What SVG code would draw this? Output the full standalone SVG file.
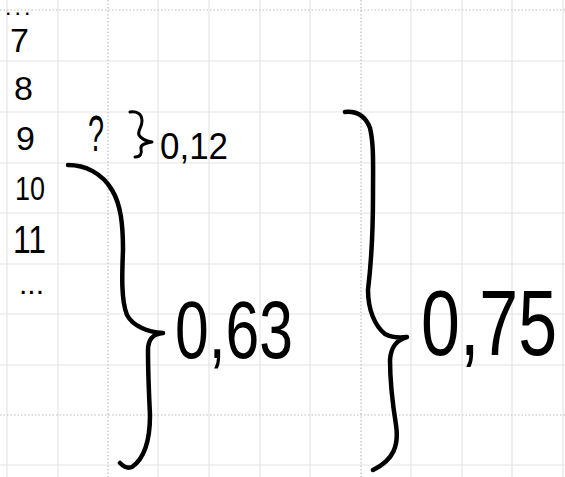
<svg xmlns="http://www.w3.org/2000/svg" width="565" height="477" viewBox="0 0 565 477">
<style>
.g{stroke:#e4e4e4;stroke-width:1.2;fill:none}
.gd{stroke:#bdbdbd;stroke-width:1.2;stroke-dasharray:1.5 2;fill:none}
.br{fill:none;stroke:#000;stroke-linecap:round;stroke-linejoin:round}
text{font-family:"Liberation Sans",Arial,sans-serif;fill:#000}
</style>
<rect width="565" height="477" fill="#fff"/>
<g id="grid">
<path class="g" d="M7 0V477M58 0V477M158 0V477M209 0V477M260 0V477M310 0V477M411 0V477M462 0V477M512 0V477M563 0V477"/>
<path class="g" d="M0 61H565M0 112H565M0 163H565M0 213H565M0 264H565M0 314H565M0 365H565M0 465H565"/>
<path class="gd" d="M108 0V477M361 0V477M0 10H565M0 415H565"/>
</g>
<g id="row-labels" font-size="34">
<text x="6" y="15" font-size="16" font-weight="bold" letter-spacing="5">...</text>
<text x="10" y="52">7</text>
<text x="14" y="100">8</text>
<text x="16" y="150">9</text>
<text x="15" y="200" textLength="30" lengthAdjust="spacingAndGlyphs">10</text>
<text x="13" y="253" font-size="38" textLength="33" lengthAdjust="spacingAndGlyphs">11</text>
<text x="19" y="294" font-size="30">...</text>
</g>
<g id="question">
<text x="88" y="151" font-size="50" textLength="16" lengthAdjust="spacingAndGlyphs">?</text>
</g>
<g id="connectors">
<path class="br" stroke-width="3" d="M130 112C137 111 142 114 142 121C142 128 137 131 139 135C141 139 146 141 152 142C145 143 140 145 141 149C142 153 141 157 135 157"/>
<path class="br" stroke-width="4.5" d="M68 165C85 165 102 173 112 190C121 205 123 225 123 250C122 275 121 300 127 315C133 326 147 332 163 333C154 334 148 338 148 350C148 370 149 395 150 415C150 440 145 458 132 467C127 469 123 466 120 463"/>
<path class="br" stroke-width="4.5" d="M345 112C356 111 365 115 370 128C374 145 373 165 373 195C373 230 371 265 368 290C368 310 375 326 385 334C393 338 400 338 407 337C397 340 391 346 390 360C390 380 392 400 396 425C399 445 394 460 373 470"/>
</g>
<g id="label-012">
<text x="160" y="159" font-size="36" textLength="68" lengthAdjust="spacingAndGlyphs">0,12</text>
</g>
<g id="label-063">
<text transform="translate(175 358) scale(0.74 1)" font-size="82">0,63</text>
</g>
<g id="label-075">
<text transform="translate(421 355) scale(0.76 1)" font-size="92">0,75</text>
</g>
</svg>
